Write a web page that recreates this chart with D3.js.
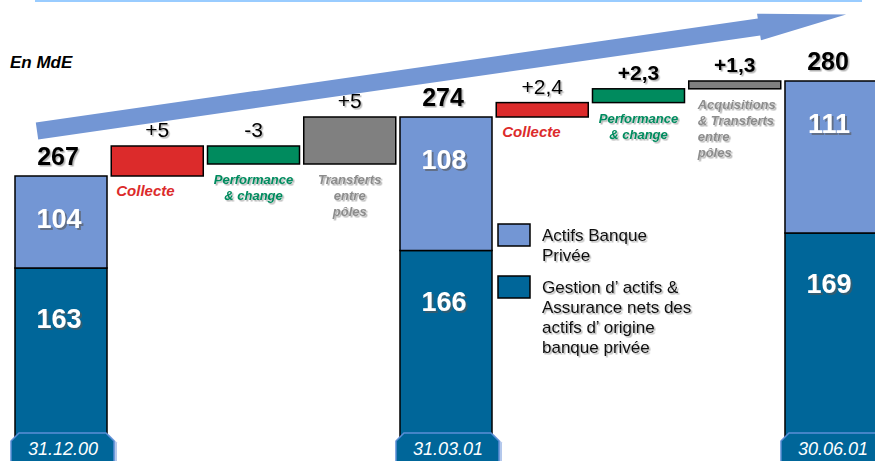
<!DOCTYPE html>
<html>
<head>
<meta charset="utf-8">
<script src="https://cdn.jsdelivr.net/npm/d3@7"></script>
<style>
  body { margin: 0; background: #fff; }
  svg text { font-family: "Liberation Sans", Arial, sans-serif; }
</style>
</head>
<body>
<svg id="svg" width="875" height="461"></svg>
<script>
// totals at each date
var dates = ["31.12.00", "31.03.01", "30.06.01"];
var banquePrivee = [104, 108, 111];
var gestionActifs = [163, 166, 169];
var totals = [267, 274, 280];

// movements between the dates
var stepValues = [5, -3, 5, 2.4, 2.3, 1.3];
var stepLabels = ["+5", "-3", "+5", "+2,4", "+2,3", "+1,3"];
var stepKinds = ["collecte", "perf", "transfert", "collecte", "perf", "transfert"];
var stepNames = [
  ["Collecte"],
  ["Performance", "& change"],
  ["Transferts", "entre", "pôles"],
  ["Collecte"],
  ["Performance", "& change"],
  ["Acquisitions", "& Transferts", "entre", "pôles"]
];

var legendLabels = [
  ["Actifs Banque", "Privée"],
  ["Gestion d\u2019 actifs &", "Assurance nets des", "actifs d\u2019 origine", "banque privée"]
];

var unitLabel = "En MdE";

// colours
var lightBlue = "#7396d4", darkBlue = "#006699";
var kindFill = { collecte: "#dc2b2b", perf: "#008b5e", transfert: "#808080" };
var kindText = { collecte: "#dc2b2b", perf: "#008b5e", transfert: "#8c8c8c" };

var svg = d3.select("#svg");

// shadows for the text
var defs = svg.append("defs");
defs.append("filter").attr("id", "sh").attr("x", "-20%").attr("y", "-30%").attr("width", "150%").attr("height", "170%")
  .append("feDropShadow").attr("dx", 1.5).attr("dy", 1.5).attr("stdDeviation", 0.4)
  .attr("flood-color", "#000").attr("flood-opacity", 0.3);
defs.append("filter").attr("id", "shw").attr("x", "-20%").attr("y", "-30%").attr("width", "150%").attr("height", "170%")
  .append("feDropShadow").attr("dx", 2).attr("dy", 2).attr("stdDeviation", 0.4)
  .attr("flood-color", "#555").attr("flood-opacity", 0.6);

// columns : total, 3 steps, total, 3 steps, total
var columns = [];
var level = totals[0];
dates.forEach(function (d, t) {
  columns.push({ type: "total", i: t });
  if (t < dates.length - 1) {
    for (var k = 0; k < 3; k++) {
      var s = t * 3 + k;
      columns.push({ type: "step", i: s, from: level, to: level + stepValues[s] });
      level += stepValues[s];
    }
    level = totals[t + 1];
  }
});

var x = d3.scaleBand().domain(d3.range(columns.length)).range([15, 877]).paddingInner(0.044);
// the chart is drawn with a broken axis: one scale for the levels, one for the lower segment
var yLevel = d3.scaleLinear().domain([267, 272, 274, 280]).range([176, 146, 117, 81]);
var ySplit = d3.scaleLinear().domain([163, 169]).range([268, 233]);

// top rule
svg.append("line").attr("x1", 35).attr("x2", 862).attr("y1", 1).attr("y2", 1)
  .attr("stroke", "#99ccff").attr("stroke-width", 2);

// big growth arrow
(function () {
  var p0 = [37, 131], p1 = [759, 27], half = 8.5, head = 13.5, len = 88;
  var dx = p1[0] - p0[0], dy = p1[1] - p0[1], l = Math.sqrt(dx * dx + dy * dy);
  var u = [dx / l, dy / l], n = [-u[1], u[0]];
  function pt(b, a, w) { return [b[0] + u[0] * a + n[0] * w, b[1] + u[1] * a + n[1] * w]; }
  var pts = [pt(p0, 0, -half), pt(p1, 0, -half), pt(p1, 0, -head), pt(p1, len, 0),
             pt(p1, 0, head), pt(p1, 0, half), pt(p0, 0, half)];
  svg.append("polygon").attr("points", pts.map(function (p) { return p.join(","); }).join(" "))
    .attr("fill", lightBlue);
})();

svg.append("text").attr("x", 10).attr("y", 68).text(unitLabel)
  .attr("font-size", 17).attr("font-weight", "bold").attr("font-style", "italic").attr("fill", "#000");

var totalCols = columns.filter(function (c) { return c.type === "total"; });
var stepCols = columns.filter(function (c) { return c.type === "step"; });

// stacked totals
var gTot = svg.append("g");
gTot.selectAll("rect.low").data(totalCols).enter().append("rect")
  .attr("x", function (c) { return x(columns.indexOf(c)); })
  .attr("width", x.bandwidth())
  .attr("y", function (c) { return ySplit(gestionActifs[c.i]); })
  .attr("height", function (c) { return ySplit(0) - ySplit(gestionActifs[c.i]); })
  .attr("fill", darkBlue).attr("stroke", "#000").attr("stroke-width", 1.5);
gTot.selectAll("rect.high").data(totalCols).enter().append("rect")
  .attr("x", function (c) { return x(columns.indexOf(c)); })
  .attr("width", x.bandwidth())
  .attr("y", function (c) { return yLevel(totals[c.i]); })
  .attr("height", function (c) { return ySplit(gestionActifs[c.i]) - yLevel(totals[c.i]); })
  .attr("fill", lightBlue).attr("stroke", "#000").attr("stroke-width", 1.5);

function cx(c) { return x(columns.indexOf(c)) + x.bandwidth() / 2; }

gTot.selectAll("text.total").data(totalCols).enter().append("text")
  .attr("x", function (c) { return cx(c) - 3; })
  .attr("y", function (c) { return yLevel(totals[c.i]) - 11; })
  .attr("text-anchor", "middle").attr("font-size", 25).attr("font-weight", "bold")
  .attr("filter", "url(#sh)").text(function (c) { return totals[c.i]; });

gTot.selectAll("text.bp").data(totalCols).enter().append("text")
  .attr("x", function (c) { return cx(c) - 2; })
  .attr("y", function (c) { return yLevel(totals[c.i]) + 52; })
  .attr("text-anchor", "middle").attr("font-size", 27).attr("font-weight", "bold")
  .attr("fill", "#fff").attr("filter", "url(#shw)").text(function (c) { return banquePrivee[c.i]; });

gTot.selectAll("text.ga").data(totalCols).enter().append("text")
  .attr("x", function (c) { return cx(c) - 2; })
  .attr("y", function (c) { return ySplit(gestionActifs[c.i]) + 60; })
  .attr("text-anchor", "middle").attr("font-size", 27).attr("font-weight", "bold")
  .attr("fill", "#fff").attr("filter", "url(#shw)").text(function (c) { return gestionActifs[c.i]; });

// date tags
var gDate = svg.append("g");
function tagPath(c, off) {
  var x0 = x(columns.indexOf(c)) - 4 + off, x1 = x(columns.indexOf(c)) + x.bandwidth() + 7 + off;
  var top = 433 + off / 2, bot = 475, ch = 8;
  return "M" + (x0 + ch) + "," + top + "L" + (x1 - ch) + "," + top + "L" + x1 + "," + (top + ch) +
    "L" + x1 + "," + bot + "L" + x0 + "," + bot + "L" + x0 + "," + (top + ch) + "Z";
}
gDate.selectAll("path.sh").data(totalCols).enter().append("path")
  .attr("d", function (c) { return tagPath(c, 3); }).attr("fill", "#b4c8ec");
gDate.selectAll("path.tag").data(totalCols).enter().append("path")
  .attr("d", function (c) { return tagPath(c, 0); })
  .attr("fill", darkBlue).attr("stroke", "#5b8ed6").attr("stroke-width", 1.5);
gDate.selectAll("text").data(totalCols).enter().append("text")
  .attr("x", function (c) { return cx(c) + 2; }).attr("y", 455)
  .attr("text-anchor", "middle").attr("font-size", 18).attr("font-style", "italic")
  .attr("fill", "#fff").text(function (c) { return dates[c.i]; });

// floating steps
var gStep = svg.append("g");
gStep.selectAll("rect").data(stepCols).enter().append("rect")
  .attr("x", function (c) { return x(columns.indexOf(c)); })
  .attr("width", x.bandwidth())
  .attr("y", function (c) { return yLevel(Math.max(c.from, c.to)); })
  .attr("height", function (c) { return Math.abs(yLevel(c.from) - yLevel(c.to)); })
  .attr("fill", function (c) { return kindFill[stepKinds[c.i]]; })
  .attr("stroke", "#000").attr("stroke-width", 1.5);

gStep.selectAll("text.val").data(stepCols).enter().append("text")
  .attr("x", function (c) { return cx(c); })
  .attr("y", function (c) { return yLevel(Math.max(c.from, c.to)) - 9; })
  .attr("text-anchor", "middle").attr("font-size", 21)
  .attr("font-weight", function (c) { return c.i >= 4 ? "bold" : "normal"; })
  .attr("filter", "url(#sh)").text(function (c) { return stepLabels[c.i]; });

// how each step name is aligned under its bar
var nameAnchor = ["start", "middle", "middle", "start", "middle", "start"];
var nameShift = [5, 0, 0, 6, 0, 9];

var names = gStep.selectAll("text.name").data(stepCols).enter().append("text")
  .attr("text-anchor", function (c) { return nameAnchor[c.i]; })
  .attr("font-weight", "bold").attr("font-style", "italic")
  .attr("font-size", function (c) { return stepKinds[c.i] === "collecte" ? 15 : 13; })
  .attr("fill", function (c) { return kindText[stepKinds[c.i]]; })
  .attr("filter", function (c) { return stepKinds[c.i] === "collecte" ? null : "url(#sh)"; });
names.each(function (c) {
  var xx = nameAnchor[c.i] === "start" ? x(columns.indexOf(c)) + nameShift[c.i] : cx(c);
  var y0 = yLevel(Math.min(c.from, c.to)) + 20;
  d3.select(this).selectAll("tspan").data(stepNames[c.i]).enter().append("tspan")
    .attr("x", xx).attr("y", function (d, j) { return y0 + j * 16; }).text(function (d) { return d; });
});

// legend
var gLeg = svg.append("g");
var legTop = [224, 276];
[lightBlue, darkBlue].forEach(function (col, k) {
  gLeg.append("rect").attr("x", 498).attr("y", legTop[k]).attr("width", 32).attr("height", 22)
    .attr("fill", col).attr("stroke", "#000").attr("stroke-width", 1.5);
  gLeg.append("text").attr("font-size", 17).attr("fill", "#111").attr("filter", "url(#sh)")
    .selectAll("tspan").data(legendLabels[k]).enter().append("tspan")
    .attr("x", 542).attr("y", function (d, j) { return legTop[k] + 17 + j * 20; })
    .text(function (d) { return d; });
});
</script>
</body>
</html>
